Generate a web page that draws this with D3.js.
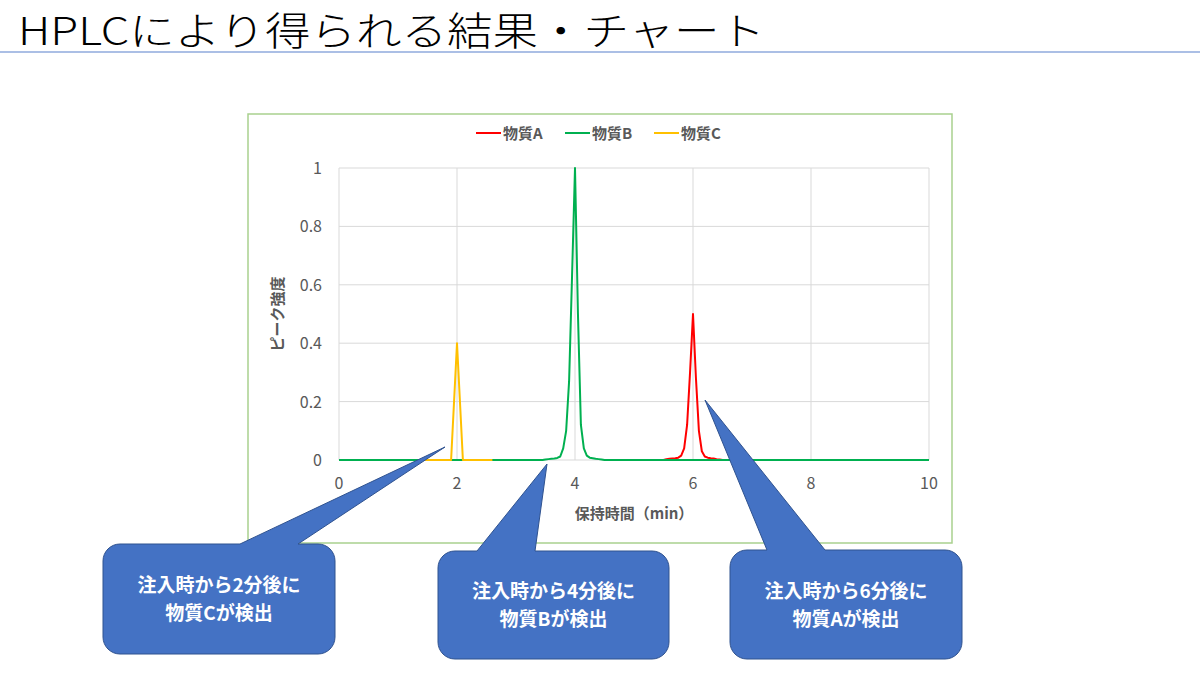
<!DOCTYPE html>
<html lang="ja">
<head>
<meta charset="UTF-8">
<title>HPLCにより得られる結果・チャート</title>
<script src="https://d3js.org/d3.v7.min.js"></script>
<style>
  body { margin: 0; background: #fff; }
  svg { display: block; font-family: "Noto Sans CJK JP", "Noto Sans", sans-serif; }
</style>
</head>
<body>
<svg width="1200" height="675"></svg>
<script>
// 保持時間 (min) と ピーク強度
const timeA = [5.5, 5.55, 5.6, 5.65, 5.7, 5.75, 5.8, 5.85, 5.9, 5.95, 6.0, 6.05, 6.1, 6.15, 6.2, 6.25, 6.3, 6.35, 6.4, 6.45, 6.5];
const peakA = [0, 0.003, 0.004, 0.005, 0.006, 0.008, 0.015, 0.04, 0.12, 0.3, 0.5, 0.28, 0.1, 0.03, 0.012, 0.008, 0.006, 0.005, 0.003, 0.002, 0];
const timeB = [0, 3.45, 3.5, 3.55, 3.6, 3.65, 3.7, 3.75, 3.8, 3.85, 3.9, 3.95, 4.0, 4.05, 4.1, 4.15, 4.2, 4.25, 4.3, 4.35, 4.4, 4.45, 4.5, 10];
const peakB = [0, 0, 0.002, 0.003, 0.004, 0.005, 0.007, 0.012, 0.04, 0.1, 0.27, 0.63, 1, 0.5, 0.12, 0.04, 0.015, 0.008, 0.006, 0.004, 0.003, 0.002, 0, 0];
const timeC = [1.4, 1.5, 1.6, 1.7, 1.8, 1.9, 2.0, 2.1, 2.2, 2.3, 2.4, 2.5, 2.6];
const peakC = [0, 0, 0, 0, 0, 0, 0.4, 0, 0, 0, 0, 0, 0];

const seriesNames = ["物質A", "物質B", "物質C"];
const seriesColors = ["#ff0000", "#00b050", "#ffc000"];
const xTicks = [0, 2, 4, 6, 8, 10];
const yTicks = [0, 0.2, 0.4, 0.6, 0.8, 1];

const callTexts = [
  ["注入時から2分後に", "物質Cが検出"],
  ["注入時から4分後に", "物質Bが検出"],
  ["注入時から6分後に", "物質Aが検出"]
];

const svg = d3.select("svg");

// タイトル
svg.append("text")
  .attr("x", 18).attr("y", 45)
  .attr("font-size", 38.5).attr("font-weight", 300)
  .attr("fill", "#000")
  .attr("textLength", 747).attr("lengthAdjust", "spacingAndGlyphs")
  .text("HPLCにより得られる結果・チャート");
svg.append("line")
  .attr("x1", 0).attr("x2", 1200).attr("y1", 52).attr("y2", 52)
  .attr("stroke", "#8faadc").attr("stroke-width", 1.5);

// グラフ枠
svg.append("rect")
  .attr("x", 248).attr("y", 114).attr("width", 704).attr("height", 429)
  .attr("fill", "#fff").attr("stroke", "#a9d18e").attr("stroke-width", 1.5);

const x = d3.scaleLinear().domain([0, 10]).range([339, 929]);
const y = d3.scaleLinear().domain([0, 1]).range([460, 168]);

// 目盛線
svg.append("g").selectAll("line").data(xTicks).join("line")
  .attr("x1", d => x(d)).attr("x2", d => x(d))
  .attr("y1", y(0)).attr("y2", y(1))
  .attr("stroke", "#d9d9d9").attr("stroke-width", 1);
svg.append("g").selectAll("line").data(yTicks).join("line")
  .attr("x1", x(0)).attr("x2", x(10))
  .attr("y1", d => y(d)).attr("y2", d => y(d))
  .attr("stroke", "#d9d9d9").attr("stroke-width", 1);

// 軸ラベル
svg.append("g").selectAll("text").data(yTicks).join("text")
  .attr("x", 322).attr("y", d => y(d) + 6)
  .attr("text-anchor", "end").attr("font-size", 16)
  .attr("fill", "#595959")
  .text(d => d3.format("~g")(d));
svg.append("g").selectAll("text").data(xTicks).join("text")
  .attr("x", d => x(d)).attr("y", 489)
  .attr("text-anchor", "middle").attr("font-size", 16)
  .attr("fill", "#595959")
  .text(d => d);

svg.append("text")
  .attr("x", 634).attr("y", 519)
  .attr("text-anchor", "middle").attr("font-size", 15).attr("font-weight", "bold")
  .attr("fill", "#595959")
  .text("保持時間（min）");
svg.append("text")
  .attr("transform", "translate(283,314) rotate(-90)")
  .attr("text-anchor", "middle").attr("font-size", 15).attr("font-weight", "bold")
  .attr("fill", "#595959")
  .text("ピーク強度");

// データ線
const series = [
  timeA.map((t, i) => [t, peakA[i]]),
  timeB.map((t, i) => [t, peakB[i]]),
  timeC.map((t, i) => [t, peakC[i]])
];
const line = d3.line().x(d => x(d[0])).y(d => y(d[1]));
svg.append("g").selectAll("path").data(series).join("path")
  .attr("d", line)
  .attr("fill", "none")
  .attr("stroke", (d, i) => seriesColors[i])
  .attr("stroke-width", 2)
  .attr("stroke-linejoin", "round");

// 凡例
const legendX = [476, 565, 654];
const lg = svg.append("g").selectAll("g").data(seriesNames).join("g")
  .attr("transform", (d, i) => `translate(${legendX[i]},133)`);
lg.append("line")
  .attr("x1", 0).attr("x2", 25)
  .attr("stroke", (d, i) => seriesColors[i]).attr("stroke-width", 2);
lg.append("text")
  .attr("x", 27).attr("y", 6)
  .attr("font-size", 15).attr("font-weight", "bold")
  .attr("fill", "#595959")
  .text(d => d);

// 吹き出し
const callouts = [
  { box: [103, 544, 232, 110], base: [240, 298], tip: [445, 447] },
  { box: [438, 551, 231, 108], base: [477, 535], tip: [547, 464] },
  { box: [730, 550, 232, 109], base: [767, 825], tip: [705, 400] }
];

function calloutPath(c) {
  const [bx, by, w, h] = c.box;
  const r = 17;
  const p = d3.path();
  p.moveTo(bx + r, by);
  p.lineTo(c.base[0], by);
  p.lineTo(c.tip[0], c.tip[1]);
  p.lineTo(c.base[1], by);
  p.lineTo(bx + w - r, by);
  p.arcTo(bx + w, by, bx + w, by + r, r);
  p.lineTo(bx + w, by + h - r);
  p.arcTo(bx + w, by + h, bx + w - r, by + h, r);
  p.lineTo(bx + r, by + h);
  p.arcTo(bx, by + h, bx, by + h - r, r);
  p.lineTo(bx, by + r);
  p.arcTo(bx, by, bx + r, by, r);
  p.closePath();
  return p.toString();
}

const cg = svg.append("g").selectAll("g").data(callouts).join("g");
cg.append("path")
  .attr("d", calloutPath)
  .attr("fill", "#4472c4")
  .attr("stroke", "#2f528f").attr("stroke-width", 1);
cg.each(function (c, i) {
  const [bx, by, w, h] = c.box;
  d3.select(this).selectAll("text").data(callTexts[i]).join("text")
    .attr("x", bx + w / 2)
    .attr("y", (d, j) => by + h / 2 - 7 + j * 28)
    .attr("text-anchor", "middle")
    .attr("font-size", 19).attr("font-weight", "bold")
    .attr("fill", "#fff")
    .text(d => d);
});
</script>
</body>
</html>
